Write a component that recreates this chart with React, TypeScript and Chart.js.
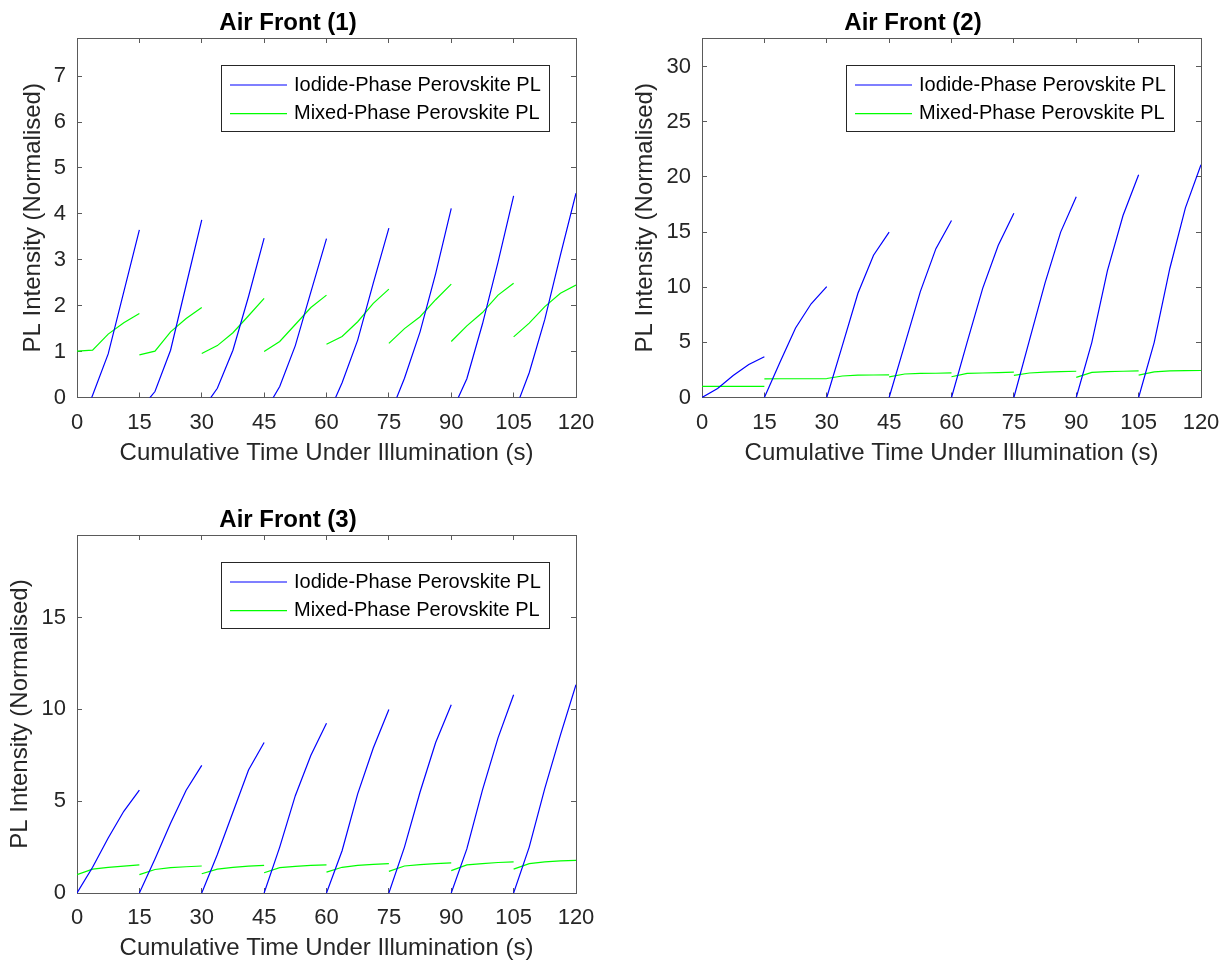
import React, { useEffect, useRef } from "react";
import { Chart, registerables } from "chart.js";

Chart.register(...registerables);

const FONT = '"Liberation Sans", Arial, Helvetica, sans-serif';
const AXIS_COLOR = "#262626";
const BORDER_COLOR = "#5a5a5a";

// Each illumination run lasts 15 s; PL sampled 5 times per run
const SEGMENT_STARTS = [0, 15, 30, 45, 60, 75, 90, 105];
const SAMPLE_OFFSETS = [0, 3.75, 7.5, 11.25, 15];
const X_TICK_STEP = 15;
const X_MIN = 0;
const X_MAX = 120;

const SERIES_LABELS = ["Iodide-Phase Perovskite PL", "Mixed-Phase Perovskite PL"];
const SERIES_COLORS = ["#0000ff", "#00ff00"];
const PLOT_TITLES = ["Air Front (1)", "Air Front (2)", "Air Front (3)"];
const X_LABEL = "Cumulative Time Under Illumination (s)";
const Y_LABEL = "PL Intensity (Normalised)";

// Air Front (1)
const iodide1 = [
  [-0.8, 0.05, 0.95, 2.3, 3.65],
  [-0.28, 0.13, 1.03, 2.45, 3.87],
  [-0.28, 0.2, 1.03, 2.2, 3.47],
  [-0.34, 0.24, 1.13, 2.3, 3.46],
  [-0.45, 0.32, 1.25, 2.49, 3.69],
  [-0.43, 0.42, 1.43, 2.7, 4.12],
  [-0.34, 0.41, 1.6, 2.95, 4.39],
  [-0.36, 0.54, 1.7, 3.1, 4.45],
];
const mixed1 = [
  [1.01, 1.03, 1.38, 1.63, 1.83],
  [0.93, 1.01, 1.43, 1.72, 1.96],
  [0.96, 1.13, 1.41, 1.78, 2.16],
  [1.0, 1.22, 1.59, 1.96, 2.23],
  [1.16, 1.33, 1.65, 2.05, 2.36],
  [1.18, 1.5, 1.76, 2.13, 2.47],
  [1.22, 1.56, 1.85, 2.23, 2.49],
  [1.32, 1.62, 1.98, 2.27, 2.45],
];

// Air Front (2)
const iodide2 = [
  [0, 0.82, 2.0, 3.0, 3.7],
  [0, 3.2, 6.3, 8.5, 10.05],
  [0, 4.7, 9.45, 12.9, 15.0],
  [0, 4.8, 9.6, 13.5, 16.05],
  [0, 5.0, 9.9, 13.8, 16.7],
  [0, 5.2, 10.4, 15.0, 18.2],
  [0, 5.0, 11.5, 16.5, 20.2],
  [0, 5.0, 11.7, 17.2, 21.1],
];
const mixed2 = [
  [1.0, 1.0, 1.0, 1.0, 1.0],
  [1.68, 1.7, 1.7, 1.7, 1.72],
  [1.72, 1.95, 2.02, 2.04, 2.05],
  [1.87, 2.13, 2.18, 2.2, 2.24],
  [1.88, 2.18, 2.22, 2.26, 2.3],
  [2.0, 2.22, 2.3, 2.35, 2.38],
  [1.82, 2.28, 2.35, 2.38, 2.42],
  [2.03, 2.33, 2.42, 2.44, 2.45],
];

// Air Front (3)
const iodide3 = [
  [0, 1.4, 3.0, 4.45, 5.6],
  [0, 1.85, 3.8, 5.6, 6.95],
  [0, 2.1, 4.4, 6.7, 8.2],
  [0, 2.5, 5.3, 7.5, 9.25],
  [0, 2.3, 5.4, 7.9, 10.0],
  [0, 2.5, 5.5, 8.2, 10.25],
  [0, 2.4, 5.6, 8.45, 10.8],
  [0, 2.5, 5.7, 8.6, 11.35],
];
const mixed3 = [
  [1.0, 1.3, 1.4, 1.46, 1.53],
  [1.0, 1.28, 1.38, 1.43, 1.47],
  [1.05, 1.3, 1.4, 1.46, 1.5],
  [1.1, 1.38, 1.45, 1.5, 1.53],
  [1.14, 1.4, 1.5, 1.56, 1.6],
  [1.18, 1.47, 1.55, 1.6, 1.64],
  [1.22, 1.53, 1.6, 1.66, 1.7],
  [1.3, 1.6, 1.7, 1.75, 1.78],
];

const Y_MAX = [7.83, 32.6, 19.5];
const Y_STEP = [1, 5, 5];

function buildSeries(segs: number[][]) {
  const pts: { x: number; y: number | null }[] = [];
  segs.forEach((vals, k) => {
    const s = SEGMENT_STARTS[k];
    vals.forEach((v, j) => pts.push({ x: s + SAMPLE_OFFSETS[j], y: v }));
    pts.push({ x: s + X_TICK_STEP, y: null });
  });
  return pts;
}

const boxLegend = {
  id: "boxLegend",
  afterDatasetsDraw(chart: any) {
    const { ctx, chartArea } = chart;
    ctx.save();
    ctx.font = `20px ${FONT}`;
    const items = chart.data.datasets.map((d: any) => ({ label: d.label, color: d.borderColor }));
    const tw = Math.max(...items.map((i: any) => ctx.measureText(i.label).width));
    const w = Math.round(73 + tw + 8);
    const h = 66;
    const right = Math.round(chartArea.right - 27);
    const left = right - w;
    const top = Math.round(chartArea.top + 27);
    ctx.fillStyle = "#ffffff";
    ctx.fillRect(left, top, w, h);
    ctx.strokeStyle = AXIS_COLOR;
    ctx.lineWidth = 1;
    ctx.strokeRect(left + 0.5, top + 0.5, w, h);
    items.forEach((it: any, i: number) => {
      const y = top + 20 + i * 28.7;
      ctx.strokeStyle = it.color;
      ctx.lineWidth = 1.2;
      ctx.beginPath();
      ctx.moveTo(left + 9, y);
      ctx.lineTo(left + 66, y);
      ctx.stroke();
      ctx.fillStyle = "#000000";
      ctx.textBaseline = "middle";
      ctx.textAlign = "left";
      ctx.fillText(it.label, left + 73, y);
    });
    ctx.restore();
  },
};

type PlotSpec = {
  title: string;
  iodide: number[][];
  mixed: number[][];
  yMax: number;
  yStep: number;
  left: number;
  top: number;
  width: number;
  height: number;
  padRight: number;
  titlePadTop: number;
  titlePadBottom: number;
  xHeight: number;
  xTitlePadBottom: number;
  yTitlePad: number;
};

const PLOTS: PlotSpec[] = [
  {
    title: PLOT_TITLES[0], iodide: iodide1, mixed: mixed1, yMax: Y_MAX[0], yStep: Y_STEP[0],
    left: 0, top: 0, width: 620, height: 480, padRight: 44,
    titlePadTop: 10.5, titlePadBottom: 1.1, xHeight: 82.5, xTitlePadBottom: 12.6, yTitlePad: 18.6,
  },
  {
    title: PLOT_TITLES[1], iodide: iodide2, mixed: mixed2, yMax: Y_MAX[1], yStep: Y_STEP[1],
    left: 625, top: 0, width: 597, height: 480, padRight: 21,
    titlePadTop: 10.5, titlePadBottom: 1.1, xHeight: 82.5, xTitlePadBottom: 12.6, yTitlePad: 6.4,
  },
  {
    title: PLOT_TITLES[2], iodide: iodide3, mixed: mixed3, yMax: Y_MAX[2], yStep: Y_STEP[2],
    left: 0, top: 490, width: 620, height: 474, padRight: 44,
    titlePadTop: 17.5, titlePadBottom: 1.1, xHeight: 71, xTitlePadBottom: 1.1, yTitlePad: 5.8,
  },
];

function makeConfig(p: PlotSpec): any {
  const gridCommon = {
    drawOnChartArea: false,
    drawTicks: true,
    tickLength: -5,
    color: BORDER_COLOR,
    lineWidth: 1,
  };
  const borderCommon = { display: true, color: BORDER_COLOR, width: 1 };
  const zeroPad = (s: any) => {
    s.paddingLeft = 0;
    s.paddingRight = 0;
    s.paddingTop = 0;
    s.paddingBottom = 0;
  };
  return {
    type: "line",
    data: {
      datasets: [
        {
          label: SERIES_LABELS[0],
          data: buildSeries(p.iodide),
          borderColor: SERIES_COLORS[0],
          backgroundColor: SERIES_COLORS[0],
          borderWidth: 1.2,
          pointRadius: 0,
          tension: 0,
          spanGaps: false,
          xAxisID: "x",
          yAxisID: "y",
          clip: 0,
        },
        {
          label: SERIES_LABELS[1],
          data: buildSeries(p.mixed),
          borderColor: SERIES_COLORS[1],
          backgroundColor: SERIES_COLORS[1],
          borderWidth: 1.2,
          pointRadius: 0,
          tension: 0,
          spanGaps: false,
          xAxisID: "x",
          yAxisID: "y",
          clip: 0,
        },
      ],
    },
    options: {
      responsive: false,
      devicePixelRatio: 1,
      animation: false,
      events: [],
      layout: { padding: { left: 0, right: p.padRight, top: 0, bottom: 0 } },
      plugins: {
        legend: { display: false },
        tooltip: { enabled: false },
        title: {
          display: true,
          text: p.title,
          color: "#000000",
          font: { family: FONT, size: 24, weight: "bold", lineHeight: 1.1 },
          padding: { top: p.titlePadTop, bottom: p.titlePadBottom },
        },
      },
      scales: {
        x: {
          type: "linear",
          position: "bottom",
          min: X_MIN,
          max: X_MAX,
          grid: gridCommon,
          border: borderCommon,
          ticks: {
            stepSize: X_TICK_STEP,
            includeBounds: false,
            color: AXIS_COLOR,
            font: { family: FONT, size: 22 },
            padding: 16.8,
            maxRotation: 0,
            autoSkip: false,
          },
          title: {
            display: true,
            text: X_LABEL,
            color: AXIS_COLOR,
            font: { family: FONT, size: 24 },
            padding: { top: 0, bottom: p.xTitlePadBottom },
          },
          afterFit: (s: any) => {
            s.height = p.xHeight;
            zeroPad(s);
          },
        },
        y: {
          type: "linear",
          position: "left",
          min: 0,
          max: p.yMax,
          grid: gridCommon,
          border: borderCommon,
          ticks: {
            stepSize: p.yStep,
            includeBounds: false,
            color: AXIS_COLOR,
            font: { family: FONT, size: 22 },
            padding: 16,
            autoSkip: false,
          },
          title: {
            display: true,
            text: Y_LABEL,
            color: AXIS_COLOR,
            font: { family: FONT, size: 24 },
            padding: { top: p.yTitlePad, bottom: 0 },
          },
          afterFit: (s: any) => {
            s.width = 77;
            zeroPad(s);
          },
        },
        x2: {
          type: "linear",
          axis: "x",
          position: "top",
          min: X_MIN,
          max: X_MAX,
          grid: gridCommon,
          border: borderCommon,
          ticks: { stepSize: X_TICK_STEP, includeBounds: false, display: false },
          afterFit: (s: any) => {
            s.height = 0;
            zeroPad(s);
          },
        },
        y2: {
          type: "linear",
          axis: "y",
          position: "right",
          min: 0,
          max: p.yMax,
          grid: gridCommon,
          border: borderCommon,
          ticks: { stepSize: p.yStep, includeBounds: false, display: false },
          afterFit: (s: any) => {
            s.width = 0;
            zeroPad(s);
          },
        },
      },
    },
    plugins: [boxLegend],
  };
}

function PlotCanvas({ spec }: { spec: PlotSpec }) {
  const ref = useRef<HTMLCanvasElement | null>(null);
  useEffect(() => {
    if (!ref.current) return;
    const chart = new Chart(ref.current, makeConfig(spec));
    return () => chart.destroy();
  }, [spec]);
  return (
    <canvas
      ref={ref}
      width={spec.width}
      height={spec.height}
      style={{
        position: "absolute",
        left: spec.left,
        top: spec.top,
        width: spec.width,
        height: spec.height,
      }}
    />
  );
}

export default function App() {
  return (
    <div
      style={{
        position: "absolute",
        left: 0,
        top: 0,
        width: 1222,
        height: 964,
        background: "#ffffff",
        overflow: "hidden",
      }}
    >
      {PLOTS.map((p, i) => (
        <PlotCanvas key={i} spec={p} />
      ))}
    </div>
  );
}
